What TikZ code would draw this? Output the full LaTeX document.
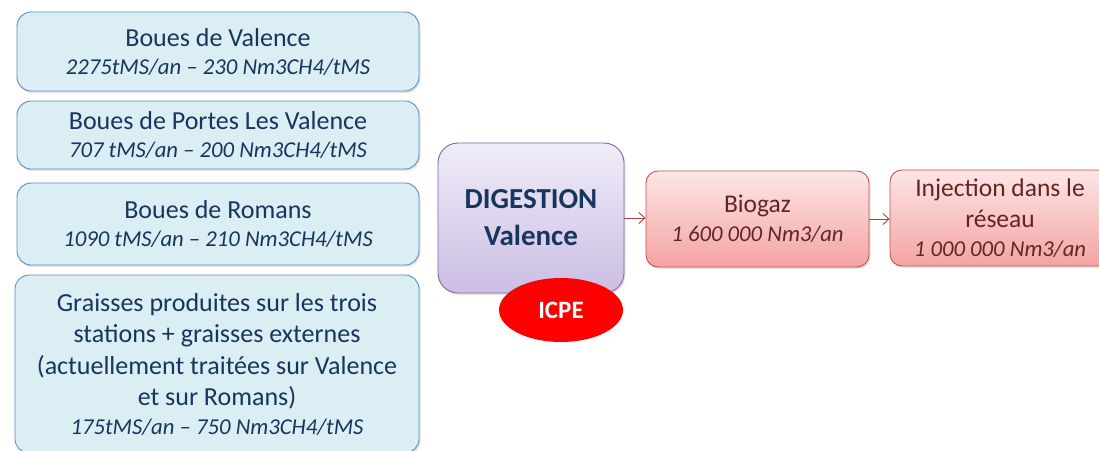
\documentclass[tikz,border=0pt]{standalone}
\usepackage{fontspec}
\setmainfont{Carlito}
\usetikzlibrary{arrows.meta,shadows,shapes.geometric}

\definecolor{srcfill}{HTML}{DBEEF4}
\definecolor{srcline}{HTML}{5E8CC4}
\definecolor{navy}{HTML}{17365D}
\definecolor{digtop}{HTML}{F0ECF8}
\definecolor{digbot}{HTML}{CBBEE4}
\definecolor{digline}{HTML}{8064A2}
\definecolor{gastop}{HTML}{FDE6E6}
\definecolor{gasbot}{HTML}{F4A3A3}
\definecolor{gasline}{HTML}{C0504D}
\definecolor{gastext}{HTML}{632523}
\definecolor{flow}{HTML}{A9433F}

\tikzset{
  softshadow/.style={drop shadow={opacity=0.22,shadow xshift=1.5pt,shadow yshift=-2pt}},
  source/.style={draw=srcline,line width=0.9pt,fill=srcfill,rounded corners=14pt,
    minimum width=402pt,inner sep=0pt,align=center,text=navy,softshadow,
    font=\fontsize{26}{28}\selectfont},
  digester/.style={draw=digline,line width=0.9pt,top color=digtop,bottom color=digbot,
    rounded corners=20pt,minimum width=186pt,minimum height=150pt,inner sep=0pt,
    align=center,text=navy,softshadow,font=\bfseries\fontsize{29}{37}\selectfont},
  product/.style={draw=gasline,line width=0.9pt,top color=gastop,bottom color=gasbot,
    rounded corners=12pt,minimum height=96pt,inner sep=0pt,align=center,text=gastext,
    softshadow,font=\fontsize{25.5}{29}\selectfont},
  tag/.style={ellipse,fill=red,minimum width=124pt,minimum height=64pt,inner sep=0pt,
    text=white,font=\bfseries\fontsize{25}{28}\selectfont},
  flowarrow/.style={draw=flow,line width=0.9pt,-{Straight Barb[length=6pt,width=11pt,line width=0.9pt]}},
}
\newcommand{\subline}[1]{{\fontsize{22.7}{28}\selectfont\itshape #1}}

\begin{document}
\begin{tikzpicture}[x=1pt,y=-1pt]
\useasboundingbox (0,0) rectangle (1099,450);
\clip (0,0) rectangle (1099,450);

% feedstock boxes
\node[source,minimum height=79pt] (valence) at (218,51.5)
  {Boues de Valence\\ \subline{2275tMS/an – 230 Nm3CH4/tMS}};
\node[source,minimum height=68pt] (portes) at (218,135)
  {Boues de Portes Les Valence\\ \subline{707 tMS/an – 200 Nm3CH4/tMS}};
\node[source,minimum height=82pt] (romans) at (218,224)
  {Boues de Romans\\ \subline{1090 tMS/an – 210 Nm3CH4/tMS}};
\node[source,minimum width=404pt,minimum height=178pt,font=\fontsize{26}{31.5}\selectfont] (graisses) at (217,364)
  {Graisses produites sur les trois\\ stations + graisses externes\\
   (actuellement traitées sur Valence\\ et sur Romans)\\[-3pt]
   \subline{175tMS/an – 750 Nm3CH4/tMS}};

% digester and its regulatory tag
\node[digester] (digestion) at (531,218) {DIGESTION\\ Valence};
\node[tag] (icpe) at (561,310) {ICPE};

% outputs
\node[product,minimum width=223pt] (biogaz) at (757.5,219)
  {Biogaz\\ \subline{1 600 000 Nm3/an}};
\node[product,minimum width=220pt,font=\fontsize{25.5}{31}\selectfont] (injection) at (1000,218)
  {Injection dans le\\ réseau\\[-2pt] \subline{1 000 000 Nm3/an}};

% flows
\draw[flowarrow] (digestion.east) -- (digestion.east -| biogaz.west);
\draw[flowarrow] (biogaz.east) -- (biogaz.east -| injection.west);
\end{tikzpicture}
\end{document}
